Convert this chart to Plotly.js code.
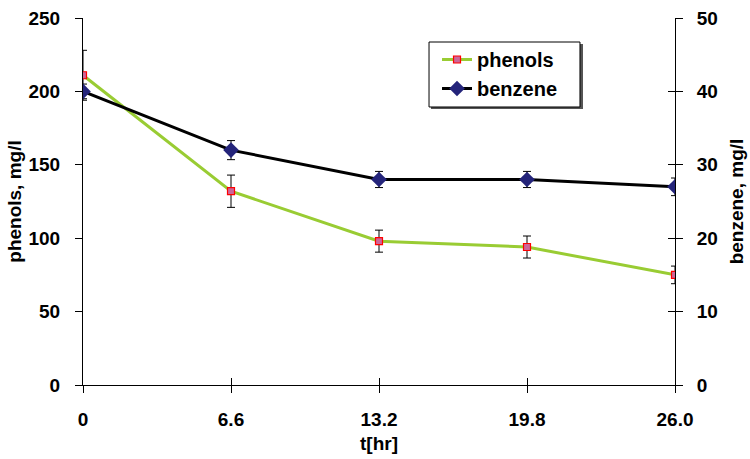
<!DOCTYPE html>
<html><head><meta charset="utf-8">
<script src="https://cdn.plot.ly/plotly-3.0.1.min.js"></script>
<style>html,body{margin:0;padding:0;background:#fff}#c{width:750px;height:459px}</style>
</head><body><div id="c"></div>
<script>
const categories = ["0", "6.6", "13.2", "19.8", "26.0"];
const phenols = [211, 132, 98, 94, 75];
const phenolsErr = [17, 11, 7.5, 7.5, 6];
const benzene = [40, 32, 28, 28, 27];
const benzeneErr = [1, 1.3, 1.1, 1.1, 1.2];
const leftTicks = [0, 50, 100, 150, 200, 250];
const rightTicks = [0, 10, 20, 30, 40, 50];

const FAM = "Liberation Sans, Arial, sans-serif";
const tf = {family: FAM, size: 19, color: "#000", weight: "bold"};
const titf = {family: FAM, size: 19, color: "#000", weight: "bold"};

const traces = [
  {x: categories, y: phenols, name: "phenols", type: "scatter", mode: "lines+markers",
   line: {color: "#99CC33", width: 3},
   marker: {symbol: "square", size: 7, color: "#CC6699", line: {color: "#FF0000", width: 1.2}},
   error_y: {type: "data", array: phenolsErr, visible: true, color: "#000", thickness: 1, width: 4},
   xaxis: "x", yaxis: "y"},
  {x: categories, y: benzene, name: "benzene", type: "scatter", mode: "lines+markers",
   line: {color: "#000000", width: 3},
   marker: {symbol: "diamond", size: 12, color: "#24247A", line: {width: 0}},
   error_y: {type: "data", array: benzeneErr, visible: true, color: "#000", thickness: 1, width: 4},
   xaxis: "x", yaxis: "y2"},
  {x: categories, y: categories.map(() => null), type: "scatter", mode: "lines",
   showlegend: false, hoverinfo: "skip", xaxis: "x2", yaxis: "y3"}
];

const layout = {
  width: 750, height: 459,
  margin: {l: 83, r: 75, t: 18, b: 74},
  paper_bgcolor: "#fff", plot_bgcolor: "rgba(0,0,0,0)",
  font: tf,
  showlegend: true,
  legend: {x: 0.598, y: 0.94, xanchor: "left", yanchor: "top",
    bgcolor: "rgba(0,0,0,0)", borderwidth: 0,
    font: {family: FAM, size: 20, color: "#000", weight: "bold"},
    tracegroupgap: 0, itemwidth: 30},
  shapes: [
    {type: "rect", xref: "paper", yref: "paper", layer: "below",
     x0: 0.5878, x1: 0.8446, y0: 0.9292, y1: 0.7520,
     fillcolor: "#555", line: {width: 0}},
    {type: "rect", xref: "paper", yref: "paper", layer: "below",
     x0: 0.5845, x1: 0.8395, y0: 0.9346, y1: 0.7575,
     fillcolor: "#fff", line: {color: "#000", width: 1}}
  ],
  xaxis: {type: "category", range: [0, 4], showgrid: false, zeroline: false,
    showline: true, linecolor: "#000", linewidth: 1,
    ticks: "outside", ticklen: 7, tickcolor: "#000",
    tickfont: tf, ticklabelstandoff: 10,
    title: {text: "t[hr]", font: titf, standoff: 7}},
  xaxis2: {type: "category", range: [0, 4], overlaying: "x", anchor: "y3",
    showgrid: false, zeroline: false, showline: false, showticklabels: false,
    ticks: "inside", ticklen: 7, tickcolor: "#000"},
  yaxis: {range: [0, 250], tickvals: leftTicks, showgrid: false, zeroline: false,
    showline: true, linecolor: "#000", linewidth: 1,
    ticks: "outside", ticklen: 7, tickcolor: "#000",
    tickfont: tf, ticklabelstandoff: 11,
    title: {text: "phenols, mg/l", font: titf, standoff: 1}},
  yaxis2: {range: [0, 50], tickvals: rightTicks, overlaying: "y", side: "right",
    showgrid: false, zeroline: false, showline: true, linecolor: "#000", linewidth: 1,
    ticks: "outside", ticklen: 7, tickcolor: "#000",
    tickfont: tf, ticklabelstandoff: 10,
    title: {text: "benzene, mg/l", font: titf, standoff: 12}},
  yaxis3: {range: [0, 50], tickvals: rightTicks, overlaying: "y", side: "right",
    showgrid: false, zeroline: false, showline: false, showticklabels: false,
    ticks: "inside", ticklen: 7, tickcolor: "#000"}
};

Plotly.newPlot("c", traces, layout, {displayModeBar: false, staticPlot: true});
</script></body></html>
